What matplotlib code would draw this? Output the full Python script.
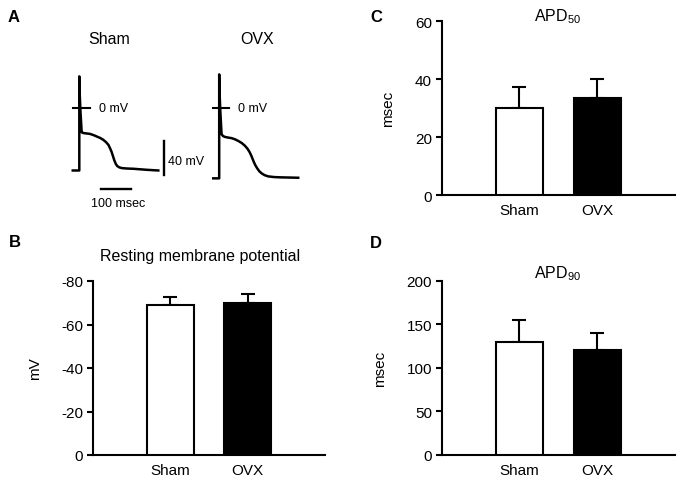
import numpy as np
import matplotlib
matplotlib.use("Agg")
import matplotlib.pyplot as plt

plt.rcParams['font.family'] = ['Liberation Sans', 'DejaVu Sans']
plt.rcParams['mathtext.default'] = 'regular'
plt.rcParams['axes.unicode_minus'] = False

# ---- data ----
groups = ['Sham', 'OVX']
bar_colors = ['white', 'black']

rmp_mean = [-68.9, -70.0]
rmp_sem = [3.6, 3.9]

apd50_mean = [30.2, 33.5]
apd50_sem = [7.2, 6.6]

apd90_mean = [129.2, 120.3]
apd90_sem = [26.0, 19.2]

# action potential traces (time in msec, voltage in mV)
sham_t = [-22, 0, 0, 1, 4, 8, 11, 20, 36, 50, 59, 70, 81, 90, 98, 104, 109, 114, 118, 123, 128, 135, 143, 160, 182, 227, 266]
sham_v = [-73.1, -73.1, 37, 20, -5, -28.3, -29.1, -29.6, -30.3, -32.0, -33.4, -35.0, -37.3, -40.0, -43.1, -47.5, -51.6, -57.0, -61.4, -65.5, -68.0, -69.5, -70.3, -70.8, -71.1, -72.3, -73.1]

ovx_t = [-20, 0, 0, 1, 4, 8, 13, 19, 30, 42, 53, 64, 76, 87, 96, 103, 109, 115, 121, 128, 135, 143, 153, 165, 185, 204, 266]
ovx_v = [-82.3, -82.3, 39.3, 20, -5, -30.7, -32.8, -33.8, -34.6, -35.3, -36.6, -38.5, -41.0, -44.3, -48.0, -52.0, -56.5, -61.8, -66.5, -70.6, -74.0, -76.5, -78.6, -80.0, -80.8, -81.1, -81.6]

ovx_offset = 471

fig = plt.figure(figsize=(6.83, 4.85), dpi=100)
W, H = 683.0, 485.0


def px_axes(x0, y0, x1, y1):
    return fig.add_axes([x0 / W, 1 - y1 / H, (x1 - x0) / W, (y1 - y0) / H])


def bar_panel(ax, mean, sem, ticks, title, title_x, title_y, ylab, ylab_x, flip=False):
    x = np.arange(1, len(groups) + 1)
    ax.bar(x, mean, width=0.6, color=bar_colors, edgecolor='black', linewidth=1.5, zorder=3)
    zeros = [0] * len(sem)
    if flip:
        yerr = [sem, zeros]
    else:
        yerr = [zeros, sem]
    ax.errorbar(x, mean, yerr=yerr, fmt='none', ecolor='black', elinewidth=1.5,
                capsize=4.8, capthick=1.5, zorder=2)
    ax.set_xlim(0, 3)
    ax.set_ylim(0, ticks[-1])
    ax.set_yticks(ticks)
    ax.set_xticks(x)
    ax.set_xticklabels(groups)
    for s in ['top', 'right']:
        ax.spines[s].set_visible(False)
    for s in ['left', 'bottom']:
        ax.spines[s].set_linewidth(1.5)
    ax.tick_params(axis='y', length=4, width=1.5, labelsize=11, pad=3)
    ax.tick_params(axis='x', length=0, labelsize=11, pad=6)
    ax.set_ylabel(ylab, fontsize=11)
    ax.yaxis.set_label_coords(ylab_x, 0.5)
    ax.text(title_x, title_y, title, transform=ax.transAxes, ha='center', va='center', fontsize=11.5)


# ---- panel A: traces ----
axA = px_axes(60, 60, 320, 215)
axA.axis('off')
axA.set_xlim(-65.0, 810.4)
axA.set_ylim(-124.0, 57.3)
axA.plot(sham_t, sham_v, color='black', lw=1.8, solid_joinstyle='round')
axA.plot(np.array(ovx_t) + ovx_offset, ovx_v, color='black', lw=1.8, solid_joinstyle='round')
# 0 mV markers
axA.plot([-22, 36], [0, 0], color='black', lw=1.5)
axA.plot([ovx_offset - 22, ovx_offset + 34], [0, 0], color='black', lw=1.5)
axA.text(67, 0, '0 mV', ha='left', va='center', fontsize=9)
axA.text(ovx_offset + 64, 0, '0 mV', ha='left', va='center', fontsize=9)
# scale bars
axA.plot([284, 284], [-78.4, -38.4], color='black', lw=1.7)
axA.text(299, -62.3, '40 mV', ha='left', va='center', fontsize=9)
axA.plot([73, 173], [-94.7, -94.7], color='black', lw=1.7)
axA.text(129.6, -111, '100 msec', ha='center', va='center', fontsize=9)

fig.text(109 / W, 1 - 39 / H, 'Sham', ha='center', va='center', fontsize=11.5)
fig.text(257.5 / W, 1 - 39 / H, 'OVX', ha='center', va='center', fontsize=11.5)

# ---- panel B ----
axB = px_axes(93, 282, 325, 456)
bar_panel(axB, rmp_mean, rmp_sem, [0, -20, -40, -60, -80], 'Resting membrane potential',
          0.461, 1 + 25 / 174, 'mV', -0.22, flip=True)

# ---- panel C ----
axC = px_axes(441.7, 22.3, 675, 196)
bar_panel(axC, apd50_mean, apd50_sem, [0, 20, 40, 60], 'APD$_{50}$',
          0.496, 1 + 5.6 / 173.7, 'msec', -0.198)

# ---- panel D ----
axD = px_axes(441.7, 281.7, 675, 455.7)
bar_panel(axD, apd90_mean, apd90_sem, [0, 50, 100, 150, 200], 'APD$_{90}$',
          0.496, 1 + 8.4 / 174, 'msec', -0.235)

# panel letters
for lab, xp, yp in [('A', 14, 17.5), ('B', 14.5, 242.5), ('C', 376, 17.5), ('D', 376, 244)]:
    fig.text(xp / W, 1 - yp / H, lab, ha='center', va='center', fontsize=12, fontweight='bold')

fig.savefig('out.png', dpi=100)
